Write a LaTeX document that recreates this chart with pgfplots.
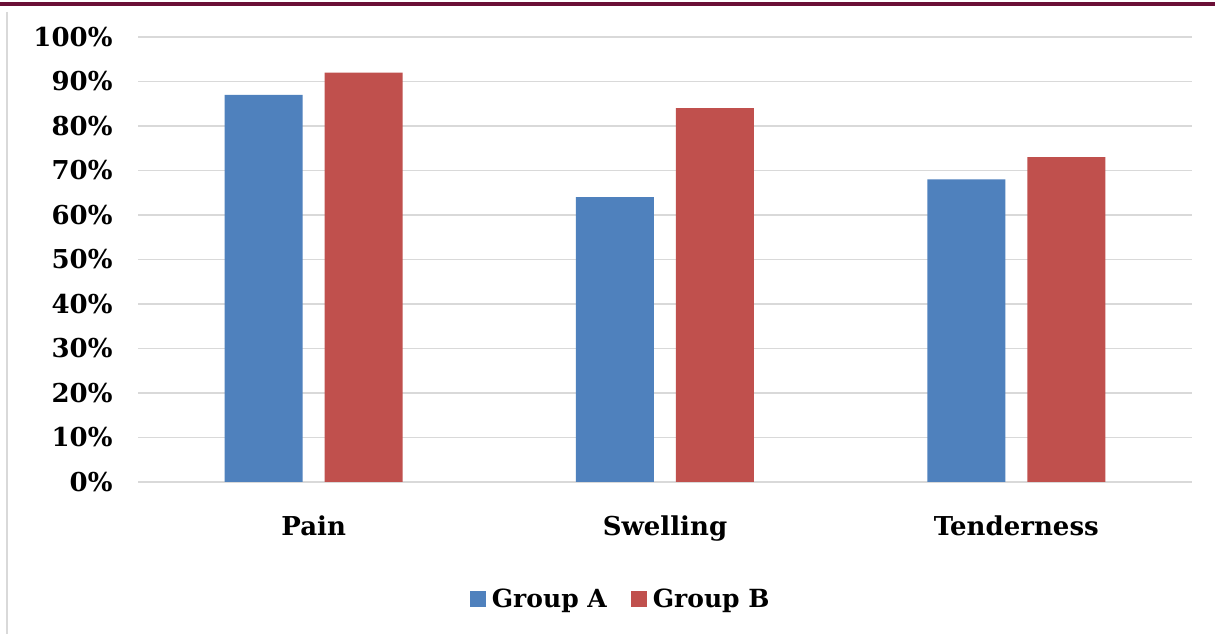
\documentclass[border=0pt]{standalone}
\usepackage{pgfplots}
\pgfplotsset{compat=1.18}
\usepackage{fontspec}
\setmainfont{DejaVu Serif}
\definecolor{gA}{HTML}{4F81BD}
\definecolor{gB}{HTML}{C0504D}
\definecolor{maroon}{HTML}{6B0F36}
\definecolor{gridc}{HTML}{D9D9D9}
\begin{document}
\begin{tikzpicture}[x=1pt,y=1pt]
\path[use as bounding box,fill=white] (0,0) rectangle (1215,634);
\draw[maroon,line width=3.5pt] (0,630) -- (1215,630);
\draw[gridc,line width=1.5pt] (7,622) -- (7,0);
\begin{axis}[
  at={(138pt,152pt)}, anchor=south west,
  scale only axis, width=1054pt, height=445pt,
  ybar=22pt, bar width=78pt,
  xmin=-0.5, xmax=2.5, ymin=0, ymax=100,
  xtick=data, xticklabels={Pain,Swelling,Tenderness},
  ytick={0,10,...,100},
  yticklabel={\pgfmathprintnumber{\tick}\%},
  /pgf/number format/assume math mode=true,
  axis line style={draw=none},
  major tick length=0pt,
  ymajorgrids, grid style={gridc,line width=1.5pt},
  tick label style={font=\bfseries\fontsize{26}{30}\selectfont},
  yticklabel style={xshift=-22pt},
  xticklabel style={yshift=-30pt},
  legend style={draw=none, at={(0.458,-0.262)}, anchor=center,
    legend columns=2, font=\bfseries\fontsize{25}{30}\selectfont,
    /tikz/every even column/.append style={column sep=22pt}},
  legend image code/.code={\fill[#1] (0pt,-8pt) rectangle (16pt,8pt);},
]
\addplot[fill=gA, draw=none] coordinates {(0,87) (1,64) (2,68)};
\addplot[fill=gB, draw=none] coordinates {(0,92) (1,84) (2,73)};
\legend{\hspace{4pt}Group A, \hspace{4pt}Group B}
\end{axis}
\end{tikzpicture}
\end{document}
